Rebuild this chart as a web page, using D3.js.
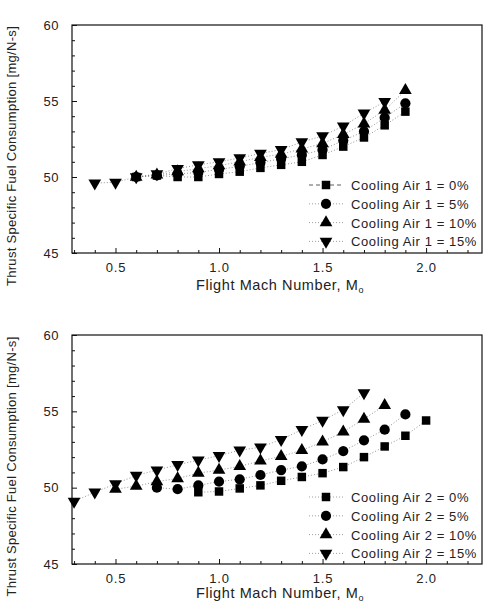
<!DOCTYPE html>
<html><head><meta charset="utf-8">
<script src="https://cdn.jsdelivr.net/npm/d3@7"></script>
<style>
html,body{margin:0;padding:0;background:#fff;}
svg text{font-family:Arial,"Liberation Sans",sans-serif;fill:#222;}
</style></head>
<body>
<svg id="chart" width="488" height="607"></svg>
<script>
// ---- data ----
const machTicks = [0.5, 1.0, 1.5, 2.0];
const tsfcTicks = [45, 50, 55, 60];

// Top panel (Cooling Air 1)
const top0Mach  = [0.6,0.7,0.8,0.9,1.0,1.1,1.2,1.3,1.4,1.5,1.6,1.7,1.8,1.9];
const top0Tsfc  = [50.0,50.1,50.0,50.0,50.2,50.35,50.6,50.8,51.0,51.45,52.0,52.6,53.4,54.3];
const top5Mach  = [0.6,0.7,0.8,0.9,1.0,1.1,1.2,1.3,1.4,1.5,1.6,1.7,1.8,1.9];
const top5Tsfc  = [50.0,50.1,50.2,50.3,50.5,50.7,50.95,51.2,51.45,51.8,52.4,53.0,53.9,54.85];
const top10Mach = [0.6,0.7,0.8,0.9,1.0,1.1,1.2,1.3,1.4,1.5,1.6,1.7,1.8,1.9];
const top10Tsfc = [50.0,50.15,50.35,50.55,50.75,51.0,51.3,51.5,51.85,52.2,52.8,53.5,54.4,55.7];
const top15Mach = [0.4,0.5,0.6,0.7,0.8,0.9,1.0,1.1,1.2,1.3,1.4,1.5,1.6,1.7,1.8];
const top15Tsfc = [49.6,49.65,50.0,50.2,50.55,50.8,51.0,51.25,51.55,51.8,52.3,52.7,53.35,54.2,54.95];

// Bottom panel (Cooling Air 2)
const bot0Mach  = [0.9,1.0,1.1,1.2,1.3,1.4,1.5,1.6,1.7,1.8,1.9,2.0];
const bot0Tsfc  = [49.7,49.75,49.95,50.15,50.45,50.7,50.95,51.35,52.0,52.7,53.4,54.4];
const bot5Mach  = [0.7,0.8,0.9,1.0,1.1,1.2,1.3,1.4,1.5,1.6,1.7,1.8,1.9];
const bot5Tsfc  = [50.0,49.9,50.15,50.4,50.55,50.83,51.15,51.4,51.85,52.4,53.1,53.8,54.8];
const bot10Mach = [0.5,0.6,0.7,0.8,0.9,1.0,1.1,1.2,1.3,1.4,1.5,1.6,1.7,1.8];
const bot10Tsfc = [49.9,50.1,50.4,50.6,50.95,51.15,51.4,51.75,52.05,52.45,53.0,53.65,54.5,55.4];
const bot15Mach = [0.3,0.4,0.5,0.6,0.7,0.8,0.9,1.0,1.1,1.2,1.3,1.4,1.5,1.6,1.7];
const bot15Tsfc = [49.1,49.7,50.25,50.8,51.15,51.5,51.8,52.1,52.45,52.65,53.15,53.8,54.4,55.1,56.2];

const topLabels = ["Cooling Air 1 = 0%","Cooling Air 1 = 5%","Cooling Air 1 = 10%","Cooling Air 1 = 15%"];
const botLabels = ["Cooling Air 2 = 0%","Cooling Air 2 = 5%","Cooling Air 2 = 10%","Cooling Air 2 = 15%"];
const yTitle = "Thrust Specific Fuel Consumption [mg/N-s]";

// ---- drawing ----
const svg = d3.select("#chart");
const zip = (a,b) => a.map((m,i)=>({m, v:b[i]}));

const markers = [
  {type:d3.symbolSquare, size:72, rot:0},
  {type:d3.symbolCircle, size:82, rot:0},
  {type:d3.symbolTriangle, size:70, rot:0},
  {type:d3.symbolTriangle, size:70, rot:180}
];

function panel(top, bottom, series, labels, legendY0, solidFirst, titleOff){
  const x = d3.scaleLinear().domain([0.29, 2.27]).range([72, 482]);
  const y = d3.scaleLinear().domain([45, 60]).range([bottom, top]);
  const g = svg.append("g");

  g.append("rect").attr("x",72).attr("y",top).attr("width",410).attr("height",bottom-top)
    .attr("fill","none").attr("stroke","#111").attr("stroke-width",1.2);

  const xAx = d3.axisBottom(x).tickValues(machTicks).tickFormat(d3.format(".1f")).tickSize(-5).tickPadding(10);
  const gx = g.append("g").attr("transform",`translate(0,${bottom})`).call(xAx);
  gx.select(".domain").remove();
  gx.selectAll("text").attr("font-size",13).attr("fill","#222").attr("letter-spacing","0.8");
  const xMinor = d3.range(3,23).map(d=>d/10).filter(d=>!machTicks.includes(d));
  const gxm = g.append("g").attr("transform",`translate(0,${bottom})`)
    .call(d3.axisBottom(x).tickValues(xMinor).tickSize(-3).tickFormat(""));
  gxm.select(".domain").remove();

  const yAx = d3.axisLeft(y).tickValues(tsfcTicks).tickSize(-5).tickPadding(13);
  const gy = g.append("g").attr("transform","translate(72,0)").call(yAx);
  gy.select(".domain").remove();
  gy.selectAll("text").attr("font-size",13).attr("fill","#333").attr("letter-spacing","0.5");
  const yMinor = d3.range(45,61).filter(d=>!tsfcTicks.includes(d));
  const gym = g.append("g").attr("transform","translate(72,0)")
    .call(d3.axisLeft(y).tickValues(yMinor).tickSize(-3).tickFormat(""));
  gym.select(".domain").remove();
  g.selectAll(".tick line").attr("stroke","#111");

  const line = d3.line().x(d=>x(d.m)).y(d=>y(d.v));
  series.forEach(s=>{
    g.append("path").datum(s).attr("d",line).attr("fill","none")
      .attr("stroke","#777").attr("stroke-width",0.8).attr("stroke-dasharray","1,2");
  });
  series.forEach((s,i)=>{
    const mk = markers[i];
    g.selectAll(null).data(s).enter().append("path")
      .attr("d", d3.symbol().type(mk.type).size(mk.size))
      .attr("transform", d=>`translate(${x(d.m)},${y(d.v)}) rotate(${mk.rot})`)
      .attr("fill","#000");
  });

  labels.forEach((lab,i)=>{
    const ly = legendY0 + i*18.8;
    const mk = markers[i];
    g.append("line").attr("x1",309).attr("x2",344).attr("y1",ly).attr("y2",ly)
      .attr("stroke", (solidFirst && i===0) ? "#333" : "#888")
      .attr("stroke-width",0.8)
      .attr("stroke-dasharray", (solidFirst && i===0) ? "4,3" : "1,2");
    g.append("path").attr("d", d3.symbol().type(mk.type).size(mk.size))
      .attr("transform",`translate(326,${ly}) rotate(${mk.rot})`).attr("fill","#000");
    g.append("text").attr("x",351).attr("y",ly+5).attr("font-size",13)
      .attr("letter-spacing","0.6").text(lab);
  });

  const xt = g.append("text").attr("x",280).attr("y",bottom+titleOff).attr("text-anchor","middle")
    .attr("font-size",14.5).attr("letter-spacing","0.6");
  xt.append("tspan").text("Flight Mach Number, M");
  xt.append("tspan").attr("font-size",9).attr("dy",3).text("o");

  g.append("text").attr("transform",`translate(16,${(top+bottom)/2+17}) rotate(-90)`)
    .attr("text-anchor","middle").attr("font-size",13).attr("letter-spacing","0.3").text(yTitle);
}

panel(25, 253,
  [zip(top0Mach,top0Tsfc), zip(top5Mach,top5Tsfc), zip(top10Mach,top10Tsfc), zip(top15Mach,top15Tsfc)],
  topLabels, 185, true, 37);
panel(335, 564,
  [zip(bot0Mach,bot0Tsfc), zip(bot5Mach,bot5Tsfc), zip(bot10Mach,bot10Tsfc), zip(bot15Mach,bot15Tsfc)],
  botLabels, 497, false, 34);
</script>
</body></html>
